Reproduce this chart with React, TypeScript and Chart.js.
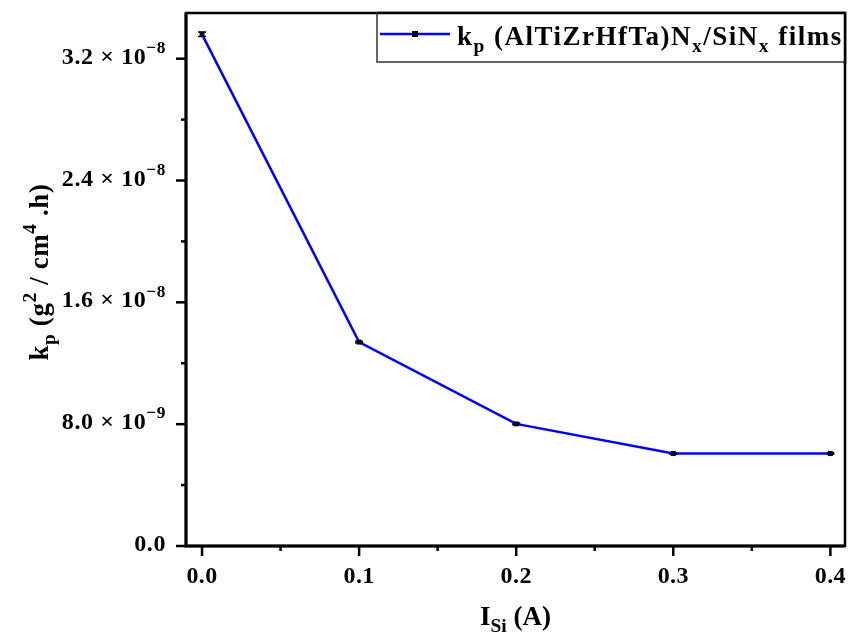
import { useEffect, useRef } from 'react';
import { Chart, registerables } from 'chart.js';

Chart.register(...registerables);

// Parabolic oxidation rate constant vs. Si target current
const currents = [0.0, 0.1, 0.2, 0.3, 0.4];
const kpValues = [3.36e-8, 1.339e-8, 8.02e-9, 6.07e-9, 6.07e-9];
const kpErrors = [1.5e-10, 6e-11, 6e-11, 5e-11, 5e-11];

const xMajorTicks = [0.0, 0.1, 0.2, 0.3, 0.4];
const xTickLabels = ['0.0', '0.1', '0.2', '0.3', '0.4'];
const xMinorTicks = [0.05, 0.15, 0.25, 0.35];

const yMajorTicks = [0, 8e-9, 1.6e-8, 2.4e-8, 3.2e-8];
const yTickMantissas = ['0.0', '8.0', '1.6', '2.4', '3.2'];
const yTickExponents = ['', '−9', '−8', '−8', '−8'];
const yMinorTicks = [4e-9, 1.2e-8, 2.0e-8, 2.8e-8];

const FONT = '"Liberation Serif", "Times New Roman", serif';
const LINE_BLUE = '#0000ff';

type Seg = { t: string; k?: 'n' | 'sub' | 'sup' };

function segFont(size: number, k: Seg['k']) {
  const s = k === 'sub' || k === 'sup' ? size * 0.72 : size;
  return `bold ${s}px ${FONT}`;
}

function segShift(size: number, k: Seg['k']) {
  if (k === 'sub') return size * 0.25;
  if (k === 'sup') return -size * 0.45;
  return 0;
}

function richWidth(ctx: CanvasRenderingContext2D, segs: Seg[], size: number) {
  let w = 0;
  for (const s of segs) {
    ctx.font = segFont(size, s.k);
    w += ctx.measureText(s.t).width;
  }
  return w;
}

function drawRich(
  ctx: CanvasRenderingContext2D,
  segs: Seg[],
  x: number,
  y: number,
  size: number,
  align: 'left' | 'center' | 'right',
  spacing = 0
) {
  const c = ctx as any;
  c.letterSpacing = `${spacing}px`;
  const w = richWidth(ctx, segs, size);
  let cx = align === 'left' ? x : align === 'center' ? x - w / 2 : x - w;
  ctx.textAlign = 'left';
  ctx.textBaseline = 'alphabetic';
  ctx.fillStyle = '#000';
  for (const s of segs) {
    ctx.font = segFont(size, s.k);
    ctx.fillText(s.t, cx, y + segShift(size, s.k));
    cx += ctx.measureText(s.t).width;
  }
  c.letterSpacing = '0px';
}

const legendSegs: Seg[] = [
  { t: 'k' },
  { t: 'p', k: 'sub' },
  { t: ' (AlTiZrHfTa)N' },
  { t: 'x', k: 'sub' },
  { t: '/SiN' },
  { t: 'x', k: 'sub' },
  { t: ' films' },
];

const xTitleSegs: Seg[] = [{ t: 'I' }, { t: 'Si', k: 'sub' }, { t: ' (A)' }];

const yTitleSegs: Seg[] = [
  { t: 'k' },
  { t: 'p', k: 'sub' },
  { t: ' (g' },
  { t: '2', k: 'sup' },
  { t: ' / cm' },
  { t: '4', k: 'sup' },
  { t: ' .h)' },
];

const framePlugin = {
  id: 'framePlugin',
  beforeDatasetsDraw(chart: any) {
    const ctx: CanvasRenderingContext2D = chart.ctx;
    const xs = chart.scales.x;
    const ys = chart.scales.y;
    ctx.save();
    ctx.strokeStyle = '#000';
    ctx.lineWidth = 1.5;
    currents.forEach((c, i) => {
      const px = xs.getPixelForValue(c);
      const top = ys.getPixelForValue(kpValues[i] + kpErrors[i]);
      const bot = ys.getPixelForValue(kpValues[i] - kpErrors[i]);
      ctx.beginPath();
      ctx.moveTo(px, top);
      ctx.lineTo(px, bot);
      ctx.moveTo(px - 4, top);
      ctx.lineTo(px + 4, top);
      ctx.moveTo(px - 4, bot);
      ctx.lineTo(px + 4, bot);
      ctx.stroke();
    });
    ctx.restore();
  },
  afterDraw(chart: any) {
    const ctx: CanvasRenderingContext2D = chart.ctx;
    const { left, right, top, bottom } = chart.chartArea;
    const xs = chart.scales.x;
    const ys = chart.scales.y;
    ctx.save();
    ctx.strokeStyle = '#000';
    ctx.lineCap = 'butt';

    // plot frame
    ctx.lineWidth = 2.5;
    ctx.strokeRect(left, top, right - left, bottom - top);
    ctx.lineWidth = 3;
    ctx.beginPath();
    ctx.moveTo(left, top);
    ctx.lineTo(left, bottom);
    ctx.lineTo(right, bottom);
    ctx.stroke();

    // y ticks (outward)
    ctx.lineWidth = 2.5;
    yMajorTicks.forEach((v) => {
      const py = ys.getPixelForValue(v);
      ctx.beginPath();
      ctx.moveTo(left - 10, py);
      ctx.lineTo(left, py);
      ctx.stroke();
    });
    yMinorTicks.forEach((v) => {
      const py = ys.getPixelForValue(v);
      ctx.beginPath();
      ctx.moveTo(left - 5, py);
      ctx.lineTo(left, py);
      ctx.stroke();
    });
    // x ticks (outward)
    xMajorTicks.forEach((v) => {
      const px = xs.getPixelForValue(v);
      ctx.beginPath();
      ctx.moveTo(px, bottom);
      ctx.lineTo(px, bottom + 10);
      ctx.stroke();
    });
    xMinorTicks.forEach((v) => {
      const px = xs.getPixelForValue(v);
      ctx.beginPath();
      ctx.moveTo(px, bottom);
      ctx.lineTo(px, bottom + 5);
      ctx.stroke();
    });

    // y tick labels
    yMajorTicks.forEach((v, i) => {
      const py = ys.getPixelForValue(v);
      const segs: Seg[] = yTickExponents[i]
        ? [{ t: yTickMantissas[i] + ' × 10' }, { t: yTickExponents[i], k: 'sup' }]
        : [{ t: yTickMantissas[i] }];
      drawRich(ctx, segs, left - 20, py + 5, 24, 'right', 0.6);
    });

    // x tick labels
    xMajorTicks.forEach((v, i) => {
      const px = xs.getPixelForValue(v);
      drawRich(ctx, [{ t: xTickLabels[i] }], px, 583, 24, 'center', 0.4);
    });

    // axis titles
    drawRich(ctx, xTitleSegs, (left + right) / 2, 625, 27, 'center');
    ctx.save();
    ctx.translate(48, 272);
    ctx.rotate(-Math.PI / 2);
    drawRich(ctx, yTitleSegs, 0, 0, 27, 'center', 0.6);
    ctx.restore();

    // legend
    const lx0 = 377;
    const ly0 = top;
    const lx1 = right;
    const ly1 = 62;
    ctx.fillStyle = '#fff';
    ctx.fillRect(lx0, ly0, lx1 - lx0, ly1 - ly0);
    ctx.strokeStyle = '#333';
    ctx.lineWidth = 1.5;
    ctx.strokeRect(lx0, ly0, lx1 - lx0, ly1 - ly0);
    ctx.strokeStyle = '#000';
    ctx.lineWidth = 2.5;
    ctx.beginPath();
    ctx.moveTo(lx0, top);
    ctx.lineTo(right, top);
    ctx.lineTo(right, ly1 + 2);
    ctx.stroke();
    ctx.strokeStyle = LINE_BLUE;
    ctx.lineWidth = 2.5;
    ctx.beginPath();
    ctx.moveTo(380, 34);
    ctx.lineTo(450, 34);
    ctx.stroke();
    ctx.fillStyle = '#000';
    ctx.fillRect(412, 31, 6, 6);
    drawRich(ctx, legendSegs, 457, 45, 27, 'left', 1.5);

    ctx.restore();
  },
};

export default function App() {
  const canvasRef = useRef<HTMLCanvasElement | null>(null);

  useEffect(() => {
    document.body.style.margin = '0';
    const canvas = canvasRef.current;
    if (!canvas) return;
    const chart = new Chart(canvas, {
      type: 'line',
      data: {
        datasets: [
          {
            label: 'kp (AlTiZrHfTa)Nx/SiNx films',
            data: currents.map((c, i) => ({ x: c, y: kpValues[i] })),
            borderColor: LINE_BLUE,
            borderWidth: 2.5,
            backgroundColor: '#000',
            pointStyle: 'rect',
            pointRadius: 3.5,
            pointBorderColor: '#000',
            pointBackgroundColor: '#000',
            pointBorderWidth: 0,
            tension: 0,
          },
        ],
      },
      options: {
        animation: false,
        responsive: false,
        maintainAspectRatio: false,
        devicePixelRatio: 1,
        layout: { padding: { top: 13, right: 1, left: 0, bottom: 0 } },
        plugins: {
          legend: { display: false },
          tooltip: { enabled: false },
        },
        scales: {
          x: {
            type: 'linear',
            min: -0.0102,
            max: 0.4093,
            grid: { display: false },
            border: { display: false },
            ticks: { display: false },
            afterFit: (scale: any) => {
              scale.height = 90;
            },
          },
          y: {
            type: 'linear',
            min: 0,
            max: 3.5e-8,
            grid: { display: false },
            border: { display: false },
            ticks: { display: false },
            afterFit: (scale: any) => {
              scale.width = 186;
            },
          },
        },
      },
      plugins: [framePlugin],
    });
    return () => {
      chart.destroy();
    };
  }, []);

  return (
    <div style={{ width: 849, height: 636, background: '#fff' }}>
      <canvas ref={canvasRef} width={849} height={636} style={{ display: 'block' }} />
    </div>
  );
}
